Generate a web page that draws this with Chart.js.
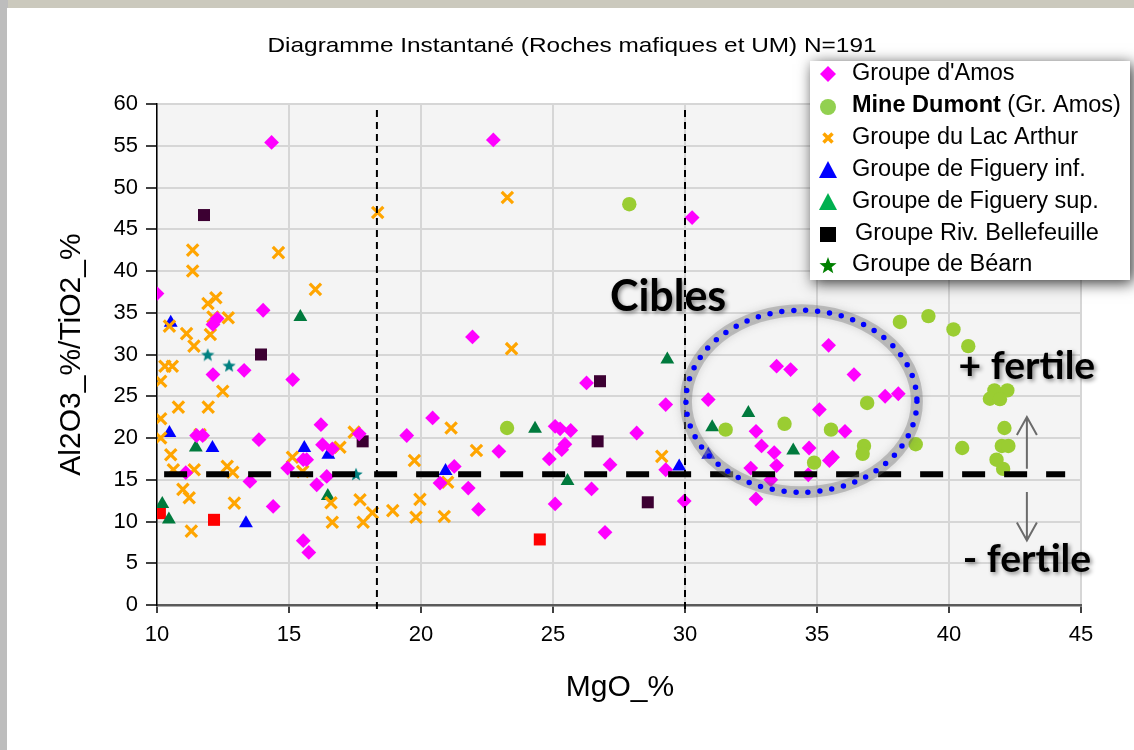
<!DOCTYPE html>
<html>
<head>
<meta charset="utf-8">
<script src="https://cdn.jsdelivr.net/npm/chart.js@4.4.1/dist/chart.umd.min.js"></script>
<style>
  html, body { margin: 0; padding: 0; background: #cbc9bd; }
  #wrap { position: absolute; left: 0; top: 0; width: 1134px; height: 750px; }
</style>
</head>
<body>
<div id="wrap"><canvas id="c" width="1134" height="750"></canvas></div>
<script>
// ---------------- DATA (MgO_%, Al2O3_%/TiO2_%) ----------------
const chartTitle = "Diagramme Instantané (Roches mafiques et UM) N=191";
const xTitle = "MgO_%";
const yTitle = "Al2O3_%/TiO2_%";
const seriesNames = ["Groupe d'Amos", "Mine Dumont", "Groupe du Lac Arthur", "Groupe de Figuery inf.",
  "Groupe de Figuery sup.", "Groupe Riv. Bellefeuille", "Groupe de Béarn"];

const amos = [
  [14.34,55.4],[22.74,55.7],[30.27,46.4],[10.0,37.3],[14.02,35.3],[12.28,34.3],[12.12,33.6],[21.95,32.1],
  [12.12,27.6],[13.3,28.1],[15.14,27.0],[11.5,20.3],[11.73,20.3],[13.86,19.8],[11.09,15.85],[13.52,14.8],
  [14.4,11.8],[16.21,21.6],[16.27,19.2],[16.64,18.7],[15.54,17.4],[15.67,17.4],[14.95,16.4],[16.43,15.4],
  [16.05,14.4],[15.54,7.7],[15.75,6.3],[17.66,20.5],[26.27,26.6],[29.27,24.0],[20.44,22.4],[19.46,20.3],
  [25.08,21.4],[25.27,21.1],[25.67,20.9],[28.17,20.6],[22.95,18.4],[25.45,19.25],[25.33,18.6],[24.86,17.5],
  [27.16,16.8],[29.27,16.2],[21.26,16.6],[20.72,14.6],[21.79,14.0],[26.46,13.9],[22.18,11.45],[25.08,12.1],
  [29.97,12.45],[26.97,8.7],[35.44,31.1],[33.47,28.6],[34.0,28.2],[36.4,27.6],[30.88,24.6],[37.58,25.0],
  [38.08,25.3],[35.09,23.4],[32.69,20.8],[36.06,20.8],[32.9,19.05],[33.38,18.25],[34.7,18.8],[35.59,17.7],
  [35.47,17.3],[33.47,16.7],[32.49,16.4],[33.25,15.0],[34.67,15.6],[32.69,12.7]
];
const mineDumont = [
  [27.89,48.0],[23.26,21.2],[38.14,33.9],[39.22,34.6],[40.17,33.0],[40.73,31.0],[36.9,24.2],[31.54,21.0],
  [33.77,21.7],[35.53,21.0],[36.78,19.05],[36.73,18.1],[38.74,19.25],[34.89,17.05],[41.72,25.7],[42.21,25.7],
  [41.55,24.7],[41.93,24.65],[42.1,21.2],[42.0,19.05],[42.25,19.05],[40.5,18.8],[41.8,17.4],[42.05,16.3]
];
const lacArthur = [
  [18.36,47.0],[11.35,42.5],[14.6,42.2],[11.35,40.0],[16.0,37.8],[12.23,36.8],[11.93,36.1],[12.12,34.5],
  [12.7,34.4],[10.47,33.4],[11.12,32.5],[12.02,32.4],[11.4,31.0],[10.3,28.6],[10.58,28.6],[10.14,26.8],
  [12.49,25.6],[10.81,23.7],[11.94,23.7],[10.14,22.3],[10.14,20.0],[11.63,20.4],[10.52,18.0],[10.62,16.2],
  [11.41,16.2],[12.66,16.6],[12.87,15.9],[10.98,13.85],[11.22,12.85],[12.93,12.2],[11.3,8.85],[16.93,18.9],
  [15.13,17.7],[15.52,16.0],[16.59,12.25],[16.64,9.9],[17.47,20.7],[17.69,12.6],[17.81,9.9],[18.16,11.05],
  [18.93,11.3],[23.27,48.8],[23.43,30.7],[21.14,21.2],[22.1,18.5],[19.75,17.3],[29.12,17.8],[21.01,14.7],
  [19.96,12.65],[19.81,10.5],[20.88,10.6]
];
const figueryInf = [
  [10.52,33.8],[10.47,20.6],[12.1,18.8],[13.37,9.8],[15.58,18.8],[16.49,18.0],[20.93,16.05],[29.78,16.6],[30.88,18.0]
];
const figuerySup = [
  [15.43,34.5],[11.47,18.85],[10.2,12.1],[10.45,10.25],[16.47,13.05],[29.33,29.4],[24.32,21.1],[25.55,14.85],
  [32.4,23.0],[31.03,21.3],[34.1,18.5]
];
const bellefeuille = [[11.78,46.7],[13.94,30.0],[17.79,19.6],[26.78,26.8],[26.69,19.6],[28.59,12.3]];
const bellefeuilleRed = [[10.11,11.0],[12.16,10.2],[24.5,7.85]];
const bearn = [[11.92,30.0],[12.73,28.7],[17.54,15.7]];

// axis ranges / ticks
const xMin = 10, xMax = 45, xStep = 5;
const yMin = 0, yMax = 60, yStep = 5;

// annotations (in data units)
const verticalDashes = [18.33, 30];
const fertileThreshold = 15.65;
const thresholdFromTo = [10.27, 44.4];
const cibleEllipse = { cx: 34.41, cy: 24.4, rx: 4.375, ry: 10.9 };
const labelCibles = { text: "Cibles", x: 29.36, y: 36.9 };
const labelPlus = { text: "+ fertile", x: 42.95, y: 28.6 };
const labelMinus = { text: "- fertile", x: 42.95, y: 5.4 };
const arrowUp = { x: 42.95, from: 16.33, to: 22.52 };
const arrowDown = { x: 42.95, from: 13.53, to: 7.73 };

// ---------------- helpers ----------------
const toPts = arr => arr.map(p => ({ x: p[0], y: p[1] }));
function starPath(ctx, cx, cy, ro, ri) {
  ctx.beginPath();
  for (let i = 0; i < 10; i++) {
    const r = i % 2 === 0 ? ro : ri;
    const a = -Math.PI / 2 + i * Math.PI / 5;
    const px = cx + r * Math.cos(a), py = cy + r * Math.sin(a);
    if (i === 0) ctx.moveTo(px, py); else ctx.lineTo(px, py);
  }
  ctx.closePath();
}
function makeStar(color, size) {
  const c = document.createElement('canvas');
  c.width = size; c.height = size;
  const g = c.getContext('2d');
  g.fillStyle = color;
  starPath(g, size / 2, size / 2 + 0.8, size / 2, size / 4.6);
  g.fill();
  return c;
}
const starImg = makeStar('#008080', 14);

const FONT = "'Liberation Sans', Arial, sans-serif";

const decorPlugin = {
  id: 'decor',
  beforeDraw(chart) {
    const ctx = chart.ctx, a = chart.chartArea;
    ctx.save();
    ctx.fillStyle = '#cbc9bd';
    ctx.fillRect(0, 0, chart.width, chart.height);
    ctx.fillStyle = '#bdbdbd';
    ctx.fillRect(0, 0, 8, chart.height);
    ctx.fillStyle = '#ffffff';
    ctx.fillRect(7, 8, chart.width - 7, chart.height - 8);
    ctx.fillStyle = '#f4f4f4';
    ctx.fillRect(a.left, a.top, a.right - a.left, a.bottom - a.top);
    ctx.restore();
  },
  afterDatasetsDraw(chart) {
    const ctx = chart.ctx, a = chart.chartArea;
    const xs = chart.scales.x, ys = chart.scales.y;
    const X = v => xs.getPixelForValue(v), Y = v => ys.getPixelForValue(v);
    ctx.save();
    // vertical dashed lines
    ctx.strokeStyle = '#000';
    ctx.lineWidth = 2;
    ctx.setLineDash([7, 5]);
    verticalDashes.forEach(v => {
      ctx.beginPath();
      ctx.moveTo(X(v), a.top + 6);
      ctx.lineTo(X(v), a.bottom + 4);
      ctx.stroke();
    });
    // thick threshold line
    ctx.lineWidth = 6;
    ctx.setLineDash([23, 19]);
    ctx.beginPath();
    ctx.moveTo(X(thresholdFromTo[0]), Y(fertileThreshold));
    ctx.lineTo(X(thresholdFromTo[1]), Y(fertileThreshold));
    ctx.stroke();
    // ellipse glow
    const ecx = X(cibleEllipse.cx), ecy = Y(cibleEllipse.cy);
    const erx = X(cibleEllipse.cx + cibleEllipse.rx) - ecx;
    const ery = ecy - Y(cibleEllipse.cy + cibleEllipse.ry);
    ctx.setLineDash([]);
    ctx.strokeStyle = 'rgba(110,110,110,0.35)';
    ctx.lineWidth = 12;
    ctx.shadowColor = 'rgba(90,90,90,0.6)';
    ctx.shadowBlur = 8;
    ctx.beginPath();
    ctx.ellipse(ecx, ecy, erx, ery, 0, 0, Math.PI * 2);
    ctx.stroke();
    ctx.shadowBlur = 0; ctx.shadowColor = 'transparent';
    ctx.strokeStyle = 'rgba(200,200,200,0.25)';
    ctx.lineWidth = 6;
    ctx.stroke();
    // blue dots
    ctx.strokeStyle = '#0000ff';
    ctx.lineWidth = 5.5;
    ctx.lineCap = 'round';
    ctx.setLineDash([0, 12]);
    ctx.beginPath();
    ctx.ellipse(ecx, ecy, erx, ery, 0, 0, Math.PI * 2);
    ctx.stroke();
    ctx.setLineDash([]);
    ctx.lineCap = 'butt';
    // arrows
    ctx.strokeStyle = '#6b6b6b';
    ctx.lineWidth = 2;
    [arrowUp, arrowDown].forEach(ar => {
      const x = X(ar.x), y0 = Y(ar.from), y1 = Y(ar.to);
      const dir = y1 < y0 ? 1 : -1;
      ctx.beginPath();
      ctx.moveTo(x, y0); ctx.lineTo(x, y1);
      ctx.moveTo(x - 10, y1 + dir * 18); ctx.lineTo(x, y1); ctx.lineTo(x + 10, y1 + dir * 18);
      ctx.stroke();
    });
    // bold labels with shadow
    ctx.textAlign = 'center';
    ctx.textBaseline = 'middle';
    ctx.fillStyle = '#000';
    ctx.shadowColor = 'rgba(0,0,0,0.45)';
    ctx.shadowBlur = 4;
    ctx.shadowOffsetX = 2; ctx.shadowOffsetY = 2;
    ctx.font = "bold 43px Lato, 'Open Sans', sans-serif";
    ctx.fillText(labelCibles.text, X(labelCibles.x), Y(labelCibles.y));
    ctx.font = "bold 39px Lato, 'Open Sans', sans-serif";
    ctx.fillText(labelPlus.text, X(labelPlus.x), Y(labelPlus.y));
    ctx.fillText(labelMinus.text, X(labelMinus.x), Y(labelMinus.y));
    ctx.restore();
  },
  afterDraw(chart) {
    const ctx = chart.ctx, a = chart.chartArea;
    ctx.save();
    // chart title (stretched horizontally as in the source picture)
    ctx.fillStyle = '#000';
    ctx.font = "21px " + FONT;
    ctx.textAlign = 'center';
    ctx.textBaseline = 'alphabetic';
    const tw = ctx.measureText(chartTitle).width;
    ctx.save();
    ctx.translate(572, 52);
    ctx.scale(609 / tw, 1);
    ctx.fillText(chartTitle, 0, 0);
    ctx.restore();
    // axis titles
    ctx.font = "30px " + FONT;
    ctx.fillText(xTitle, (a.left + a.right) / 2 + 1, 696);
    ctx.save();
    ctx.translate(80, (a.top + a.bottom) / 2);
    ctx.rotate(-Math.PI / 2);
    ctx.fillText(yTitle, 0, 0);
    ctx.restore();
    // legend box
    const bx = 810, by = 61, bw = 320, bh = 219;
    ctx.save();
    ctx.shadowColor = 'rgba(0,0,0,0.8)';
    ctx.shadowBlur = 14;
    ctx.shadowOffsetX = 3; ctx.shadowOffsetY = 3;
    ctx.fillStyle = '#fff';
    ctx.fillRect(bx, by, bw, bh);
    ctx.restore();
    const rows = [74, 106, 138, 170, 202, 234, 265];
    const mx = 828, tx = 852;
    // diamond
    ctx.fillStyle = '#ff00ff';
    ctx.beginPath();
    ctx.moveTo(mx, rows[0] - 8); ctx.lineTo(mx + 8, rows[0]); ctx.lineTo(mx, rows[0] + 8); ctx.lineTo(mx - 8, rows[0]);
    ctx.closePath(); ctx.fill();
    // circle
    ctx.fillStyle = '#92d050';
    ctx.beginPath(); ctx.arc(mx, rows[1] + 1, 8, 0, Math.PI * 2); ctx.fill();
    // small x
    ctx.strokeStyle = '#ffa500'; ctx.lineWidth = 3.5;
    ctx.beginPath();
    ctx.moveTo(mx - 4.5, rows[2] - 4.5); ctx.lineTo(mx + 4.5, rows[2] + 4.5);
    ctx.moveTo(mx + 4.5, rows[2] - 4.5); ctx.lineTo(mx - 4.5, rows[2] + 4.5);
    ctx.stroke();
    // blue triangle
    ctx.fillStyle = '#0000ff';
    ctx.beginPath(); ctx.moveTo(mx, rows[3] - 9); ctx.lineTo(mx + 9, rows[3] + 8); ctx.lineTo(mx - 9, rows[3] + 8); ctx.closePath(); ctx.fill();
    // green triangle
    ctx.fillStyle = '#00b050';
    ctx.beginPath(); ctx.moveTo(mx, rows[4] - 9); ctx.lineTo(mx + 9, rows[4] + 8); ctx.lineTo(mx - 9, rows[4] + 8); ctx.closePath(); ctx.fill();
    // black square
    ctx.fillStyle = '#000';
    ctx.fillRect(mx - 8, rows[5] - 7, 16, 15);
    // star
    ctx.fillStyle = '#008000';
    starPath(ctx, mx, rows[6] + 1, 9, 3.8); ctx.fill();
    // texts
    ctx.fillStyle = '#000';
    ctx.textAlign = 'left';
    ctx.textBaseline = 'middle';
    ctx.font = "23.5px " + FONT;
    ctx.fillText(seriesNames[0], tx, rows[0]);
    ctx.font = "bold 23.5px " + FONT;
    ctx.fillText(seriesNames[1], tx, rows[1]);
    const w = ctx.measureText(seriesNames[1]).width;
    ctx.font = "23.5px " + FONT;
    ctx.fillText(" (Gr. Amos)", tx + w, rows[1]);
    ctx.fillText(seriesNames[2], tx, rows[2]);
    ctx.fillText(seriesNames[3], tx, rows[3]);
    ctx.fillText(seriesNames[4], tx, rows[4]);
    ctx.fillText(seriesNames[5], tx + 3, rows[5]);
    ctx.fillText(seriesNames[6], tx, rows[6]);
    ctx.restore();
  }
};

const tickFont = { size: 22, family: FONT };

new Chart(document.getElementById('c'), {
  type: 'scatter',
  data: {
    datasets: [
      { label: seriesNames[0], data: toPts(amos), pointStyle: 'rectRot', radius: 7.4, backgroundColor: '#ff00ff', borderColor: '#ff00ff', borderWidth: 0 },
      { label: seriesNames[1], data: toPts(mineDumont), pointStyle: 'circle', radius: 7.2, backgroundColor: '#9acd32', borderColor: '#9acd32', borderWidth: 0 },
      { label: seriesNames[2], data: toPts(lacArthur), pointStyle: 'crossRot', radius: 8, backgroundColor: '#ffa500', borderColor: '#ffa500', borderWidth: 3.2 },
      { label: seriesNames[3], data: toPts(figueryInf), pointStyle: 'triangle', radius: 8, backgroundColor: '#0000ff', borderColor: '#0000ff', borderWidth: 0 },
      { label: seriesNames[4], data: toPts(figuerySup), pointStyle: 'triangle', radius: 8, backgroundColor: '#007a3d', borderColor: '#007a3d', borderWidth: 0 },
      { label: seriesNames[5], data: toPts(bellefeuille), pointStyle: 'rect', radius: 8.5, backgroundColor: '#3c0032', borderColor: '#3c0032', borderWidth: 0 },
      { label: seriesNames[5] + ' (rouge)', data: toPts(bellefeuilleRed), pointStyle: 'rect', radius: 8.5, backgroundColor: '#ff0000', borderColor: '#ff0000', borderWidth: 0 },
      { label: seriesNames[6], data: toPts(bearn), pointStyle: starImg, radius: 7, backgroundColor: '#008080', borderColor: '#008080', borderWidth: 0 }
    ]
  },
  options: {
    responsive: false,
    animation: false,
    events: [],
    layout: { padding: { top: 104, right: 53, left: 0, bottom: 0 } },
    plugins: { legend: { display: false }, title: { display: false }, tooltip: { enabled: false } },
    scales: {
      x: {
        type: 'linear', min: xMin, max: xMax,
        ticks: { stepSize: xStep, font: tickFont, color: '#000', padding: 9 },
        grid: { color: '#d6d6d6', lineWidth: 2, tickColor: '#000', tickLength: 8, tickWidth: 1.5 },
        border: { color: '#5a5a5a', width: 2.5 },
        afterFit(s) { s.height = 145; }
      },
      y: {
        type: 'linear', min: yMin, max: yMax,
        ticks: { stepSize: yStep, font: tickFont, color: '#000', padding: 8 },
        grid: { color: '#d6d6d6', lineWidth: 2, tickColor: '#000', tickLength: 11, tickWidth: 1.5 },
        border: { color: '#000', width: 1.5 },
        afterFit(s) { s.width = 157; }
      }
    }
  },
  plugins: [decorPlugin]
});
</script>
</body>
</html>
